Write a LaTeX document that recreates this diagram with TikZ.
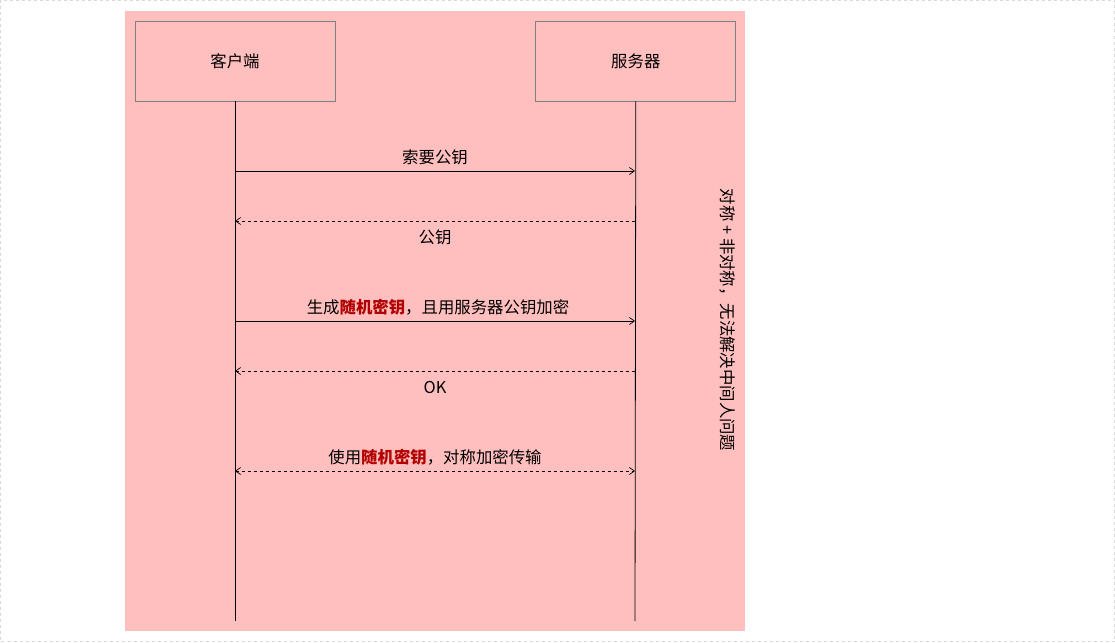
\documentclass[tikz,border=0pt]{standalone}
\usepackage{fontspec}
\setmainfont{Noto Sans CJK SC}
\usepackage{xcolor}
\usetikzlibrary{arrows.meta, positioning}

\definecolor{bgpink}{HTML}{FFBFBF}
\definecolor{keyred}{HTML}{B20000}
\definecolor{boxgray}{HTML}{808080}
\newcommand{\keyword}[1]{\textcolor{keyred}{\textbf{#1}}}

\begin{document}
\begin{tikzpicture}[
        x=1pt, y=-1pt,
        font=\fontsize{16.4}{19}\selectfont,
        party/.style={rectangle, minimum width=200pt, minimum height=80pt, draw=boxgray, fill=bgpink, line width=0.8pt},
        lifeline/.style={line width=0.8pt},
        msg/.style={line width=0.7pt, -{Straight Barb[length=5pt,width=7pt]}},
        reply/.style={msg, dashed},
        both/.style={line width=0.7pt, dashed, {Straight Barb[length=5pt,width=7pt]}-{Straight Barb[length=5pt,width=7pt]}},
        lblup/.style={midway, yshift=14pt},
        lbldown/.style={midway, yshift=-16pt}
    ]

    \useasboundingbox (0,0) rectangle (1115,642);
    \draw [black!15, dashed, line width=0.8pt] (0.5,0.5) rectangle (1114.5,641.5);
    \fill [bgpink] (125,11) rectangle (745,631);

    \node (client) [party] at (235,61) {客户端};
    \node (server) [party, right=200pt of client] {服务器};

    \coordinate (clientend) at (235,621);
    \coordinate (serverend) at (635,621);
    \draw [lifeline] (client.south) -- (clientend);
    \draw [lifeline] (server.south) -- (serverend);

    % message levels on both lifelines
    \coordinate (c1) at (235,171); \coordinate (s1) at (635,171);
    \coordinate (c2) at (235,221); \coordinate (s2) at (635,221);
    \coordinate (c3) at (235,321); \coordinate (s3) at (635,321);
    \coordinate (c4) at (235,371); \coordinate (s4) at (635,371);
    \coordinate (c5) at (235,471); \coordinate (s5) at (635,471);

    \draw [msg] (c1) -- node [lblup] {索要公钥} (s1);
    \draw [reply] (s2) -- node [lbldown] {公钥} (c2);
    \draw [msg] (c3) -- node [lblup, xshift=3pt] {生成\keyword{随机密钥}，且用服务器公钥加密} (s3);
    \draw [reply] (s4) -- node [lbldown] {OK} (c4);
    \draw [both] (c5) -- node [lblup] {使用\keyword{随机密钥}，对称加密传输} (s5);

    \node (note) [rotate=-90] at (728,320) {对称 + 非对称，无法解决中间人问题};

\end{tikzpicture}
\end{document}
